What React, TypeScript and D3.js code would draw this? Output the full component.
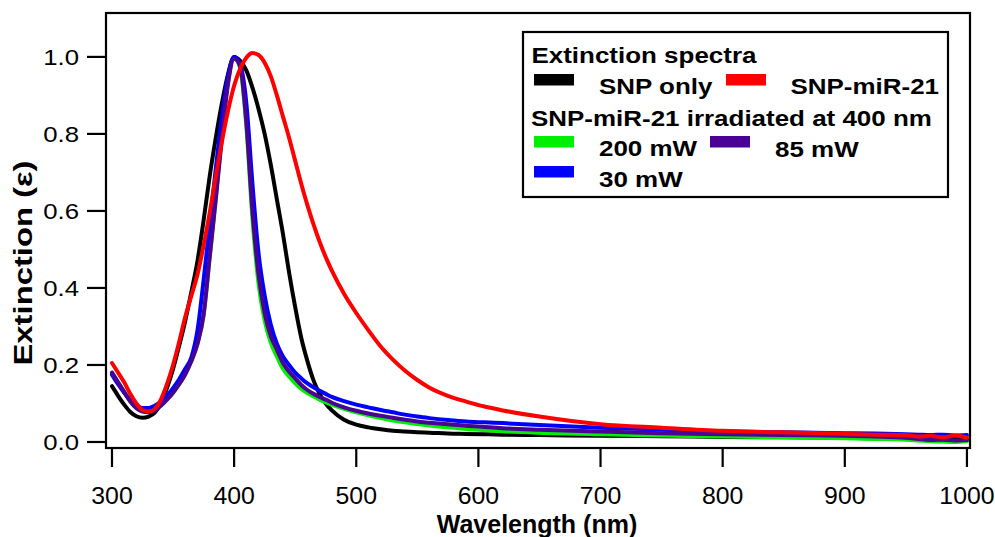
import React from "react";
import * as d3 from "d3";

const wavelengths = [300,305,310,315,320,325,330,335,340,345,350,355,360,365,370,375,380,385,390,395,400,405,410,415,420,425,430,435,440,445,450,455,460,465,470,475,480,490,500,510,520,530,540,550,560,575,590,605,620,650,700,750,800,850,900,925,950,960,970,980,990,1000];

const snpOnly = [0.145,0.12,0.097,0.078,0.067,0.063,0.066,0.076,0.1,0.14,0.19,0.25,0.315,0.39,0.47,0.575,0.69,0.79,0.88,0.955,1.0,0.99,0.965,0.92,0.865,0.8,0.72,0.63,0.54,0.44,0.35,0.27,0.21,0.16,0.125,0.1,0.082,0.058,0.045,0.038,0.033,0.029,0.027,0.025,0.024,0.022,0.021,0.02,0.019,0.018,0.016,0.015,0.013,0.012,0.011,0.01,0.01,0.009,0.01,0.008,0.009,0.008];

const snpMiR21 = [0.205,0.18,0.155,0.125,0.1,0.083,0.079,0.086,0.11,0.15,0.2,0.26,0.325,0.38,0.435,0.51,0.595,0.69,0.78,0.86,0.925,0.97,0.998,1.01,1.005,0.985,0.95,0.9,0.845,0.79,0.73,0.67,0.615,0.565,0.52,0.48,0.445,0.385,0.335,0.29,0.248,0.214,0.185,0.161,0.141,0.12,0.105,0.092,0.082,0.066,0.046,0.037,0.029,0.025,0.021,0.019,0.018,0.014,0.016,0.012,0.017,0.011];

const mw200 = [0.18,0.155,0.13,0.106,0.089,0.08,0.078,0.083,0.095,0.11,0.128,0.15,0.176,0.21,0.255,0.33,0.48,0.635,0.795,0.935,0.998,0.97,0.82,0.58,0.41,0.315,0.258,0.222,0.19,0.17,0.152,0.138,0.127,0.118,0.11,0.103,0.097,0.086,0.077,0.069,0.062,0.056,0.051,0.047,0.043,0.038,0.034,0.031,0.028,0.024,0.02,0.017,0.014,0.012,0.01,0.008,0.006,0.004,0.002,0.001,0.0,0.002];

const mw85 = [0.18,0.155,0.13,0.105,0.088,0.079,0.077,0.082,0.094,0.11,0.128,0.15,0.176,0.21,0.255,0.33,0.48,0.63,0.79,0.93,0.995,0.975,0.83,0.6,0.435,0.335,0.275,0.24,0.205,0.183,0.165,0.148,0.135,0.125,0.117,0.11,0.102,0.09,0.081,0.074,0.068,0.063,0.058,0.053,0.05,0.046,0.042,0.039,0.036,0.032,0.027,0.023,0.02,0.018,0.016,0.014,0.011,0.008,0.005,0.006,0.004,0.005];

const mw30 = [0.175,0.15,0.128,0.108,0.094,0.088,0.088,0.094,0.105,0.12,0.14,0.163,0.19,0.22,0.29,0.42,0.565,0.71,0.845,0.95,1.0,0.98,0.88,0.67,0.49,0.38,0.305,0.255,0.222,0.2,0.18,0.165,0.152,0.142,0.133,0.125,0.117,0.106,0.097,0.09,0.083,0.077,0.071,0.066,0.062,0.057,0.053,0.051,0.049,0.044,0.037,0.032,0.027,0.025,0.023,0.022,0.02,0.019,0.018,0.019,0.017,0.018];

const xTicks = [300, 400, 500, 600, 700, 800, 900, 1000];
const yTicks = [0.0, 0.2, 0.4, 0.6, 0.8, 1.0];

const series = [
  { name: "SNP only", color: "#000000", values: snpOnly },
  { name: "200 mW", color: "#00ee00", values: mw200 },
  { name: "30 mW", color: "#0000ff", values: mw30 },
  { name: "85 mW", color: "#4b0096", values: mw85 },
  { name: "SNP-miR-21", color: "#ff0000", values: snpMiR21 },
];

const FONT = "'Liberation Sans', Arial, Helvetica, sans-serif";

const frame = { left: 106, right: 970, top: 13, bottom: 448 };

export default function App() {
  const x = d3.scaleLinear().domain([295.1, 1002.5]).range([frame.left, frame.right]);
  const y = d3.scaleLinear().domain([-0.0156, 1.114]).range([frame.bottom, frame.top]);

  const line = d3
    .line<number>()
    .x((_, i) => x(wavelengths[i]))
    .y((v) => y(v))
    .curve(d3.curveMonotoneX);

  const legendSwatches = [
    { color: "#000000", x: 534, y: 74 },
    { color: "#ff0000", x: 726, y: 74 },
    { color: "#00ee00", x: 534, y: 136 },
    { color: "#4b0096", x: 710, y: 136 },
    { color: "#0000ff", x: 534, y: 166 },
  ];
  const legendTexts = [
    { t: "Extinction spectra", x: 531.5, y: 63 },
    { t: "SNP only", x: 599, y: 94 },
    { t: "SNP-miR-21", x: 790.5, y: 94 },
    { t: "SNP-miR-21 irradiated at 400 nm", x: 531, y: 126 },
    { t: "200 mW", x: 599, y: 156 },
    { t: "85 mW", x: 775, y: 157 },
    { t: "30 mW", x: 599, y: 187 },
  ];

  return (
    <svg
      width={995}
      height={537}
      style={{ position: "absolute", left: 0, top: 0, background: "#fff" }}
      fontFamily={FONT}
    >
      <rect x={0} y={0} width={995} height={537} fill="#fff" />
      <defs>
        <clipPath id="plotClip">
          <rect x={frame.left} y={frame.top} width={frame.right - frame.left} height={frame.bottom - frame.top} />
        </clipPath>
      </defs>

      <g clipPath="url(#plotClip)">
        {series.map((s) => (
          <path
            key={s.name}
            d={line(s.values) || ""}
            fill="none"
            stroke={s.color}
            strokeWidth={4}
            strokeLinejoin="round"
            strokeLinecap="round"
          />
        ))}
      </g>

      <rect
        x={frame.left}
        y={frame.top}
        width={frame.right - frame.left}
        height={frame.bottom - frame.top}
        fill="none"
        stroke="#000"
        strokeWidth={2.2}
      />

      {yTicks.map((t) => (
        <g key={"y" + t}>
          <line x1={87} x2={frame.left} y1={y(t)} y2={y(t)} stroke="#000" strokeWidth={2.2} />
          <text
            transform={`translate(79,${y(t) + 8.3}) scale(1.12,1)`}
            textAnchor="end"
            fontSize={23}
          >
            {t.toFixed(1)}
          </text>
        </g>
      ))}

      {xTicks.map((t) => (
        <g key={"x" + t}>
          <line x1={x(t)} x2={x(t)} y1={frame.bottom} y2={467} stroke="#000" strokeWidth={2.2} />
          <text
            transform={`translate(${x(t)},504) scale(1.08,1)`}
            textAnchor="middle"
            fontSize={23}
          >
            {t}
          </text>
        </g>
      ))}

      <text x={537} y={533} textAnchor="middle" fontSize={25} fontWeight="bold">
        Wavelength (nm)
      </text>
      <text
        transform="translate(32,263) rotate(-90)"
        textAnchor="middle"
        fontSize={25}
        fontWeight="bold"
        textLength={205}
        lengthAdjust="spacingAndGlyphs"
      >
        Extinction (ε)
      </text>

      <rect x={523} y={32} width={425} height={165} fill="#fff" stroke="#000" strokeWidth={2.2} />
      {legendSwatches.map((s, i) => (
        <rect key={"sw" + i} x={s.x} y={s.y} width={40} height={11.5} fill={s.color} />
      ))}
      {legendTexts.map((l, i) => (
        <text
          key={"lt" + i}
          transform={`translate(${l.x},${l.y}) scale(1.18,1)`}
          fontSize={22}
          fontWeight="bold"
        >
          {l.t}
        </text>
      ))}
    </svg>
  );
}
